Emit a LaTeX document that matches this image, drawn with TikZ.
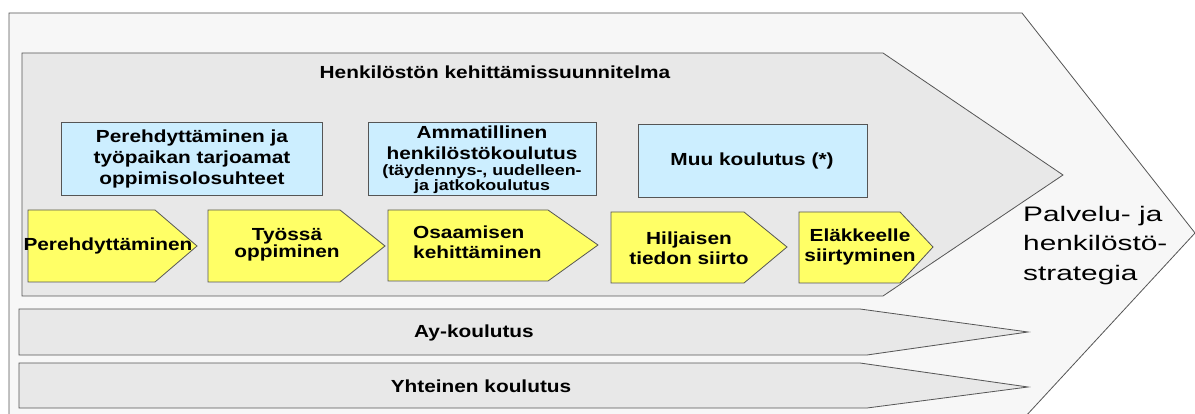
\documentclass[tikz,border=0pt]{standalone}
\usepackage{fontspec}
\setmainfont{Liberation Sans}
\newfontfamily\labfont[FakeStretch=1.19]{Liberation Sans}
\newfontfamily\stratfont[FakeStretch=1.42]{Liberation Sans}
\definecolor{outerfill}{HTML}{F7F7F7}
\definecolor{innerfill}{HTML}{E8E8E8}
\definecolor{bluefill}{HTML}{CCEEFF}
\definecolor{yelfill}{HTML}{FFFF66}
\definecolor{edge}{HTML}{555555}
\begin{document}
\begin{tikzpicture}[x=1pt,y=-1pt,
  shapeline/.style={draw=edge,line width=0.8pt,line join=miter},
  bluebox/.style={shapeline,fill=bluefill},
  yelshape/.style={shapeline,fill=yelfill},
  boldtxt/.style={font=\labfont\fontsize{17.5}{21}\selectfont\bfseries,align=center,inner sep=0pt},
  smalltxt/.style={font=\labfont\fontsize{15}{13}\selectfont\bfseries,align=center,inner sep=0pt}
]
\useasboundingbox (0,0) rectangle (1195,414);
\clip (0,0) rectangle (1195,414);
\fill[white] (0,0) rectangle (1195,414);
% outer chevron
\draw[shapeline,fill=outerfill] (9,13) -- (1022,13) -- (1195,233) -- (1013,430) -- (9,430) -- cycle;
% inner chevron
\draw[shapeline,fill=innerfill] (22,53) -- (883,53) -- (1063,175) -- (883,296) -- (22,296) -- cycle;
\node[boldtxt] (plan) at (495,72) {Henkilöstön kehittämissuunnitelma};
% blue boxes
\draw[bluebox] (61,122) rectangle (322,195);
\node[boldtxt] (b1) at (192,159) {Perehdyttäminen ja\\työpaikan tarjoamat\\oppimisolosuhteet};
\draw[bluebox] (368,122) rectangle (596,195);
\node[boldtxt] (b2) at (482,143) {Ammatillinen\\henkilöstökoulutus};
\node[smalltxt] (b2s) at (482,179.5) {(täydennys-, uudelleen-\\ja jatkokoulutus};
\draw[bluebox] (638,124) rectangle (867,197);
\node[boldtxt] (b3) at (752,161) {Muu koulutus (*)};
% yellow arrows
\draw[yelshape] (28,210) -- (155,210) -- (197,246) -- (155,282) -- (28,282) -- cycle;
\node[boldtxt] (y1) at (108,246) {Perehdyttäminen};
\draw[yelshape] (208,210) -- (340,210) -- (385,246) -- (340,282) -- (208,282) -- cycle;
\node[boldtxt,font=\labfont\fontsize{17.5}{16}\selectfont\bfseries] (y2) at (287,245) {Työssä\\oppiminen};
\draw[yelshape] (388,210) -- (548,210) -- (598,245) -- (548,281) -- (388,281) -- cycle;
\node[boldtxt,align=left,anchor=west,font=\labfont\fontsize{17.5}{20}\selectfont\bfseries] (y3) at (413,242) {Osaamisen\\kehittäminen};
\draw[yelshape] (611,212) -- (744,212) -- (787,247) -- (744,283) -- (611,283) -- cycle;
\node[boldtxt,font=\labfont\fontsize{17.5}{20}\selectfont\bfseries] (y4) at (689,248) {Hiljaisen\\tiedon siirto};
\draw[yelshape] (799,212) -- (900,212) -- (933,247) -- (900,283) -- (799,283) -- cycle;
\node[boldtxt,font=\labfont\fontsize{17.5}{20}\selectfont\bfseries] (y5) at (860,247) {Eläkkeelle\\siirtyminen};
% bottom bars
\draw[shapeline,fill=innerfill] (19,309) -- (860,309) -- (1028,332) -- (867,355) -- (19,355) -- cycle;
\node[boldtxt] (ay) at (474,333) {Ay-koulutus};
\draw[shapeline,fill=innerfill] (19,363) -- (860,363) -- (1028,387) -- (867,408) -- (19,408) -- cycle;
\node[boldtxt] (yh) at (481,386) {Yhteinen koulutus};
% strategy text
\node[font=\stratfont\fontsize{21}{29.5}\selectfont,align=left,anchor=north west,inner sep=0pt] (strat) at (1023,206) {Palvelu- ja\\henkilöstö-\\strategia};
\end{tikzpicture}
\end{document}
